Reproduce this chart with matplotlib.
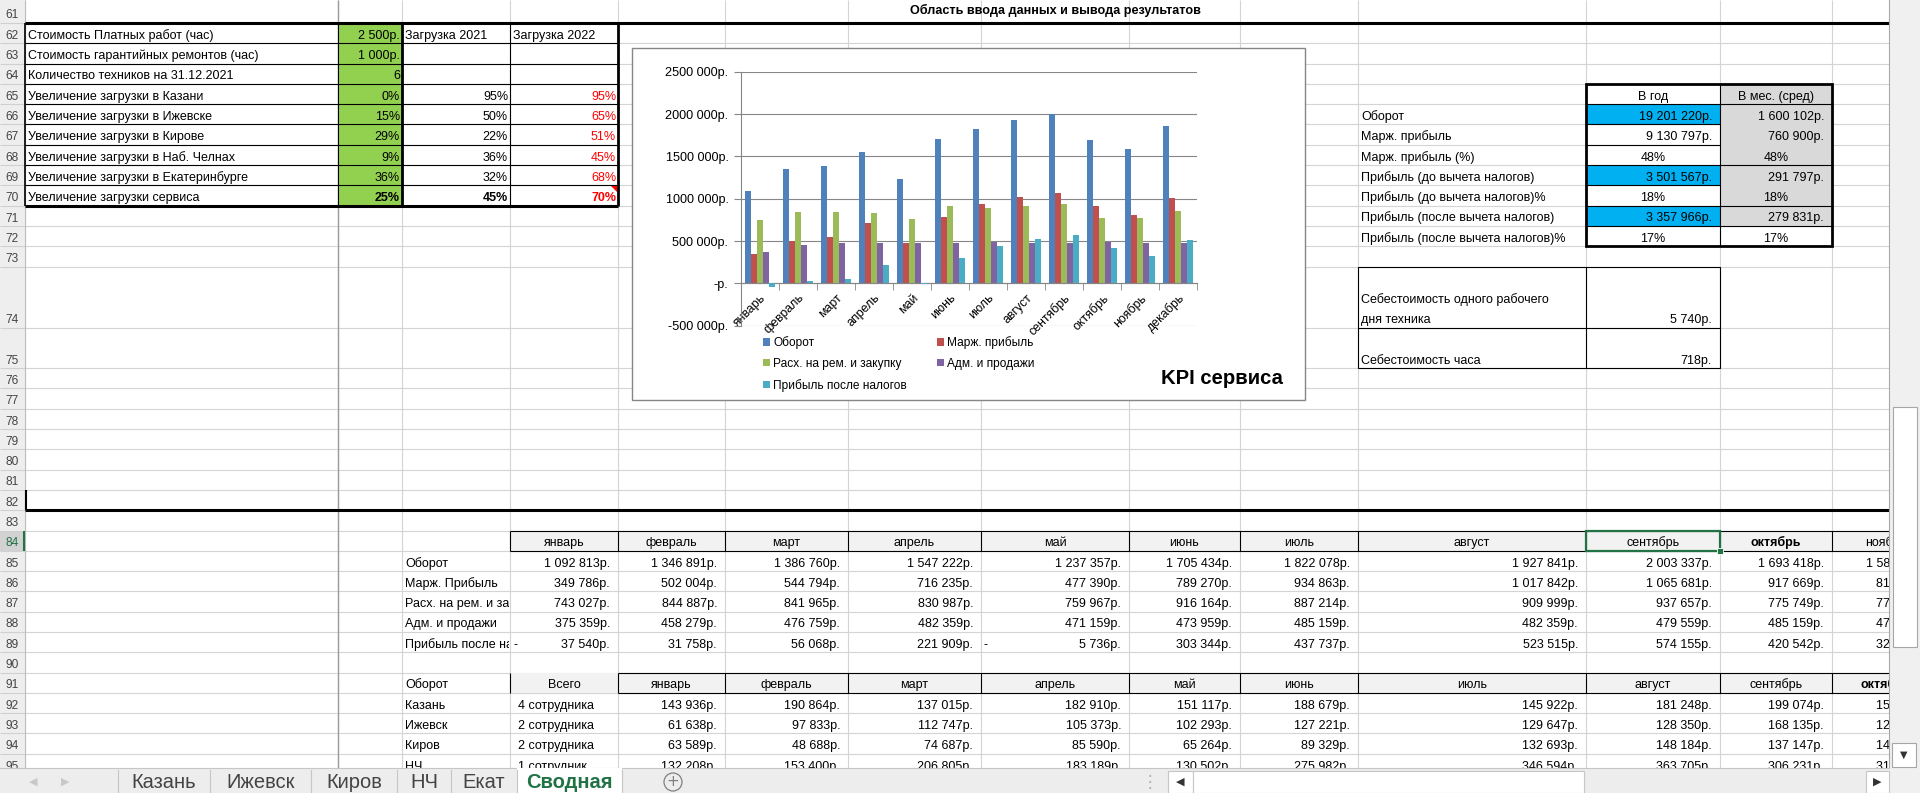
import matplotlib
matplotlib.use("Agg")
import matplotlib.pyplot as plt
import numpy as np
from matplotlib import font_manager
from matplotlib.patches import Rectangle, Circle, Polygon
from matplotlib.ticker import FuncFormatter, MultipleLocator

# --- данные листа "Сводная" ---
MONTHS = ["январь", "февраль", "март", "апрель", "май", "июнь", "июль",
          "август", "сентябрь", "октябрь", "ноябрь", "декабрь"]
TURNOVER = [1092813, 1346891, 1386760, 1547222, 1237357, 1705434, 1822078,
            1927841, 2003337, 1693418, 1584000, 1854000]
MARGIN = [349786, 502004, 544794, 716235, 477390, 789270, 934863,
          1017842, 1065681, 917669, 812000, 1003000]
REPAIR = [743027, 844887, 841965, 830987, 759967, 916164, 887214,
          909999, 937657, 775749, 772000, 853000]
ADMIN = [375359, 458279, 476759, 482359, 471159, 473959, 485159,
         482359, 479559, 485159, 474000, 478000]
PROFIT = [-37540, 31758, 56068, 221909, -5736, 303344, 437737,
          523515, 574155, 420542, 322000, 510000]

SERIES = ["Оборот", "Марж. прибыль", "Расх. на рем. и закупку",
          "Адм. и продажи", "Прибыль после налогов"]
COLORS = ["#4F81BD", "#C0504D", "#9BBB59", "#8064A2", "#4BACC6"]
T1_LABELS = ["Оборот", "Марж. Прибыль", "Расх. на рем. и закупку",
             "Адм. и продажи", "Прибыль после налогов"]

INPUT_LABELS = ["Стоимость Платных работ (час)", "Стоимость гарантийных ремонтов (час)",
                "Количество техников на 31.12.2021", "Увеличение загрузки в Казани",
                "Увеличение загрузки в Ижевске", "Увеличение загрузки в Кирове",
                "Увеличение загрузки в Наб. Челнах", "Увеличение загрузки в Екатеринбурге",
                "Увеличение загрузки сервиса"]
INPUT_VALUES = ["2 500р.", "1 000р.", "6", "0%", "15%", "29%", "9%", "36%", "25%"]
LOAD_2021 = [95, 50, 22, 36, 32, 45]
LOAD_2022 = [95, 65, 51, 45, 68, 70]

SUMMARY_LABELS = ["Оборот", "Марж. прибыль", "Марж. прибыль (%)",
                  "Прибыль (до вычета налогов)", "Прибыль (до вычета налогов)%",
                  "Прибыль (после вычета налогов)", "Прибыль (после вычета налогов)%"]
SUMMARY_YEAR = [19201220, 9130797, 0.48, 3501567, 0.18, 3357966, 0.17]
SUMMARY_MONTH = [1600102, 760900, 0.48, 291797, 0.18, 279831, 0.17]
COST_DAY = 5740
COST_HOUR = 718

CITIES = ["Казань", "Ижевск", "Киров", "НЧ"]
CITY_STAFF = ["4 сотрудника", "2 сотрудника", "2 сотрудника", "1 сотрудник"]
CITY_TURNOVER = [
    [143936, 190864, 137015, 182910, 151117, 188679, 145922, 181248, 199074, 155000],
    [61638, 97833, 112747, 105373, 102293, 127221, 129647, 128350, 168135, 125000],
    [63589, 48688, 74687, 85590, 65264, 89329, 132693, 148184, 137147, 145000],
    [132208, 153400, 206805, 183189, 130502, 275982, 346594, 363705, 306231, 315000],
]
SHEETS = ["Казань", "Ижевск", "Киров", "НЧ", "Екат", "Сводная"]

# --- оформление ---
W, H = 1920, 793
AVAILABLE = {f.name for f in font_manager.fontManager.ttflist}
if "Liberation Sans Narrow" in AVAILABLE:
    FONT, K = "Liberation Sans Narrow", 1.0
else:
    FONT, K = "Liberation Sans", 0.86
FS = 10.5 * K
GRID = "#D4D4D4"
XL_GREEN = "#217346"
HEAD = "#F2F2F2"

COLS = [25, 338, 402, 510, 618, 725, 848, 981, 1129, 1240, 1358, 1586, 1720, 1832, 1940]
ROW_H = 20.3
top, bot = {61: 0.0}, {61: 23.0}
y = 23.0
for r in range(62, 97):
    top[r] = y
    y += ROW_H * (3 if r == 74 else 2 if r == 75 else 1)
    bot[r] = y


def rub(v):
    return f"{abs(round(v)):,}".replace(",", " ") + "р."


fig = plt.figure(figsize=(W / 100, H / 100), dpi=100)
sh = fig.add_axes([0, 0, 1, 1])
sh.set_xlim(0, W)
sh.set_ylim(H, 0)
sh.axis("off")


def line(xs, ys, color="black", lw=0.8, z=2):
    sh.plot(xs, ys, color=color, lw=lw, zorder=z, solid_capstyle="butt")


def box(x0, y0, x1, y1, fc, ec="none", lw=0.8, z=1, ax=None):
    (ax or sh).add_patch(Rectangle((x0, y0), x1 - x0, y1 - y0, fc=fc, ec=ec, lw=lw, zorder=z))


def txt(x, r, s, ha="left", clip=None, dy=0, **kw):
    t = sh.text(x, bot[r] - 4.5 - dy, s, ha=ha, va="baseline", fontsize=FS,
                family=FONT, zorder=4, **kw)
    if clip is not None:
        t.set_clip_path(Rectangle((clip[0], top[r]), clip[1] - clip[0], bot[r] - top[r],
                                  transform=sh.transData))
        t.set_clip_on(True)
    return t


# сетка листа
for x in COLS[:-1]:
    line([x, x], [0, 768], GRID, z=0.5)
for r in range(61, 96):
    line([25, 1889], [bot[r]] * 2, GRID, z=0.5)

# заголовки строк
box(0, 0, 25, 768, "#EEEEEE", z=0.6)
box(0, top[84], 25, bot[84], "#D2D2D2", z=0.7)
for r in range(61, 96):
    line([0, 25], [bot[r]] * 2, "#D0D0D0", z=0.8)
    sh.text(12.5, bot[r] - 4.5, str(r), ha="center", va="baseline", fontsize=FS * 0.95,
            family=FONT, color=XL_GREEN if r == 84 else "#444444", zorder=3)
line([24, 24], [top[84], bot[84]], XL_GREEN, lw=1.5, z=3)
line([25, 25], [0, 768], "#BDBDBD", z=1)
line([338, 338], [0, 768], "#9B9B9B", lw=1.0, z=1)

sh.text(1055, 10, "Область ввода данных и вывода результатов", ha="center", va="center",
        fontsize=10.6 * K, family=FONT, weight="bold", zorder=4)
line([25, 1889], [23, 23], lw=2.2, z=3)
line([25, 1889], [bot[82]] * 2, lw=2.2, z=3)
line([26, 26], [top[82], bot[82]], lw=1.5, z=3)

# таблица ввода
box(338, 23, 402, bot[70], "#92D050")
for r in range(62, 70):
    line([25, 618], [bot[r]] * 2)
line([25, 618], [bot[70]] * 2, lw=2.2, z=3)
line([25, 25], [23, bot[70]], lw=1.2)
line([338, 338], [23, bot[70]])
line([402, 402], [23, bot[70]], lw=2)
line([510, 510], [23, bot[70]])
line([618, 618], [23, bot[70]], lw=2)
for i, label in enumerate(INPUT_LABELS):
    r = 62 + i
    txt(28, r, label)
    txt(400, r, INPUT_VALUES[i], ha="right", weight="bold" if r == 70 else "normal")
txt(405, 62, "Загрузка 2021")
txt(513, 62, "Загрузка 2022")
for i in range(len(LOAD_2021)):
    r = 65 + i
    w8 = "bold" if r == 70 else "normal"
    txt(508, r, f"{LOAD_2021[i]}%", ha="right", weight=w8)
    txt(616, r, f"{LOAD_2022[i]}%", ha="right", weight=w8, color="#FF0000")
sh.add_patch(Polygon([[611, top[70] + 1], [617, top[70] + 1], [617, top[70] + 7]],
                     fc="#FF0000", ec="none", zorder=4))

# итоговая таблица справа
xa, xb, xc = COLS[11], COLS[12], COLS[13]
box(xa, top[65], xb, bot[65], "white")
box(xb, top[65], xc, bot[71], "#D9D9D9")
for r in (66, 69, 71):
    box(xa, top[r], xb, bot[r], "#00B0F0")
for r in range(65, 72):
    line([xa, xb], [bot[r]] * 2)
for r in (65, 68, 70, 71):
    line([xb, xc], [bot[r]] * 2)
line([xb, xb], [top[65], bot[72]])
sh.add_patch(Rectangle((xa, top[65]), xc - xa, bot[72] - top[65], fill=False,
                       ec="black", lw=2, zorder=3))
txt((xa + xb) / 2, 65, "В год", ha="center")
txt((xb + xc) / 2, 65, "В мес. (сред)", ha="center")
for i, label in enumerate(SUMMARY_LABELS):
    r = 66 + i
    txt(COLS[10] + 3, r, label)
    for val, x0, x1 in ((SUMMARY_YEAR[i], xa, xb), (SUMMARY_MONTH[i], xb, xc)):
        if val < 1:
            txt((x0 + x1) / 2, r, f"{round(val * 100)}%", ha="center")
        else:
            txt(x1 - 8, r, rub(val), ha="right")

sh.add_patch(Rectangle((COLS[10], top[74]), xb - COLS[10], bot[75] - top[74], fill=False,
                       ec="black", lw=0.8, zorder=3))
line([COLS[10], xb], [bot[74]] * 2)
line([xa, xa], [top[74], bot[75]])
txt(COLS[10] + 3, 74, "Себестоимость одного рабочего", dy=ROW_H)
txt(COLS[10] + 3, 74, "дня техника")
txt(xb - 8, 74, rub(COST_DAY), ha="right")
txt(COLS[10] + 3, 75, "Себестоимость часа")
txt(xb - 8, 75, rub(COST_HOUR), ha="right")

# таблица по месяцам
for k in range(11):
    x0, x1 = COLS[3 + k], COLS[4 + k]
    box(x0, top[84], x1, bot[84], HEAD)
    line([x0, x0], [top[84], bot[84]])
    txt((x0 + x1) / 2, 84, MONTHS[k], ha="center", weight="bold" if k == 9 else "normal")
line([510, 1940], [top[84]] * 2)
line([510, 1940], [bot[84]] * 2)
for j, vals in enumerate([TURNOVER, MARGIN, REPAIR, ADMIN, PROFIT]):
    r = 85 + j
    txt(405, r, T1_LABELS[j], clip=(402, 509))
    for k in range(11):
        x0, x1 = COLS[3 + k], COLS[4 + k]
        txt(x1 - 8, r, rub(vals[k]), ha="right")
        if vals[k] < 0:
            txt(x0 + 3, r, "-")
sh.add_patch(Rectangle((COLS[11], top[84]), COLS[12] - COLS[11], ROW_H, fill=False,
                       ec=XL_GREEN, lw=1.6, zorder=5))
box(COLS[12] - 3, bot[84] - 3, COLS[12] + 3, bot[84] + 3, XL_GREEN, ec="white", lw=0.6, z=6)

# оборот по городам
txt(405, 91, "Оборот")
box(510, top[91], 618, bot[91], HEAD)
line([510, 510], [top[91], bot[91]])
txt(564, 91, "Всего", ha="center")
for k in range(10):
    x0, x1 = COLS[4 + k], COLS[5 + k]
    box(x0, top[91], x1, bot[91], HEAD)
    line([x0, x0], [top[91], bot[91]])
    txt((x0 + x1) / 2, 91, MONTHS[k], ha="center", weight="bold" if k == 9 else "normal")
line([618, 1940], [top[91]] * 2)
line([618, 1940], [bot[91]] * 2)
for j, city in enumerate(CITIES):
    r = 92 + j
    txt(405, r, city)
    txt(518, r, CITY_STAFF[j])
    for k, v in enumerate(CITY_TURNOVER[j]):
        txt(COLS[5 + k] - 8, r, rub(v), ha="right")

# --- диаграмма KPI ---
box(632, 48, 1305, 400, "white", ec="#868686", lw=1, z=7)
ax = fig.add_axes([741 / W, 1 - 325.7 / H, (1197 - 741) / W, (325.7 - 71.7) / H], zorder=6)
ax.patch.set_alpha(0)
x = np.arange(len(MONTHS))
bw = 1 / 6.5
for k, vals in enumerate([TURNOVER, MARGIN, REPAIR, ADMIN, PROFIT]):
    ax.bar(x + (k - 2) * bw, vals, bw, color=COLORS[k], label=SERIES[k], zorder=3)
ax.set_xlim(-0.5, len(MONTHS) - 0.5)
ax.set_ylim(-500000, 2500000)
ax.yaxis.set_major_locator(MultipleLocator(500000))
ax.yaxis.set_major_formatter(FuncFormatter(
    lambda v, p: "-р." if v == 0 else f"{int(v / 1000)} 000р."))
ax.grid(axis="y", color="#868686", lw=0.8)
ax.set_axisbelow(True)
for s in ("top", "right"):
    ax.spines[s].set_visible(False)
ax.spines["left"].set_color("#868686")
ax.spines["bottom"].set_color("#868686")
ax.spines["bottom"].set_position(("data", 0))
ax.set_xticks(x)
ax.set_xticklabels(MONTHS, rotation=45, ha="right", rotation_mode="anchor",
                   fontsize=10.4 * K, family=FONT)
ax.set_xticks(np.arange(-0.5, len(MONTHS)), minor=True)
ax.tick_params(axis="x", which="major", length=0, pad=6)
ax.tick_params(axis="x", which="minor", length=5, color="#868686", direction="out")
ax.tick_params(axis="y", length=5, color="#868686", direction="out", pad=4)
for t in ax.get_yticklabels():
    t.set_family(FONT)
    t.set_fontsize(10.6 * K)

handles, labels = ax.get_legend_handles_labels()
order = [0, 2, 4, 1, 3]
ax.legend([handles[i] for i in order], [labels[i] for i in order], ncol=2,
          loc="upper left", bbox_to_anchor=(763 / W, 1 - 336 / H), bbox_transform=fig.transFigure,
          frameon=False, prop={"family": FONT, "size": 10 * K}, handlelength=0.6,
          handleheight=0.6, handletextpad=0.25, columnspacing=2.5, labelspacing=0.75,
          borderpad=0, borderaxespad=0)
fig.text(1222 / W, 1 - 378 / H, "KPI сервиса", ha="center", va="center",
         fontsize=17 * K, family=FONT, weight="bold", zorder=8)

# --- полосы прокрутки и ярлыки листов ---
ov = fig.add_axes([0, 0, 1, 1], zorder=10)
ov.set_xlim(0, W)
ov.set_ylim(H, 0)
ov.axis("off")
ov.patch.set_alpha(0)
box(1889, 0, W, H, "#F0F0F0", z=1, ax=ov)
ov.plot([1889, 1889], [0, 768], color="#A8A8A8", lw=0.8, zorder=2)
box(1893, 407, 1917, 647, "white", ec="#A6A6A6", z=2, ax=ov)
box(1892, 743, 1916, 767, "white", ec="#A6A6A6", z=2, ax=ov)
ov.text(1904, 755, "▼", ha="center", va="center", fontsize=7, color="#333333",
        family="DejaVu Sans", zorder=3)

box(0, 768, 1889, H, "#EDEDED", z=1, ax=ov)
ov.plot([0, 1889], [768, 768], color="#C6C6C6", lw=0.8, zorder=2)
ov.text(33, 782, "◀", ha="center", va="center", fontsize=8, color="#C8C8C8",
        family="DejaVu Sans", zorder=3)
ov.text(65, 782, "▶", ha="center", va="center", fontsize=8, color="#C8C8C8",
        family="DejaVu Sans", zorder=3)
tab_edges = [118, 210, 311, 397, 451, 517, 622]
for i, name in enumerate(SHEETS):
    x0, x1 = tab_edges[i], tab_edges[i + 1]
    active = name == "Сводная"
    if active:
        box(x0, 768, x1, H, "white", z=2, ax=ov)
    ov.text((x0 + x1) / 2, 782, name, ha="center", va="center", fontsize=14.5,
            family="Liberation Sans", weight="bold" if active else "normal",
            color=XL_GREEN if active else "#444444", zorder=3)
for xe in tab_edges:
    ov.plot([xe, xe], [770, H], color="#C6C6C6", lw=0.8, zorder=3)
ov.add_patch(Circle((673, 782), 9, fill=False, ec="#808080", lw=0.9, zorder=3))
ov.text(673, 782, "+", ha="center", va="center", fontsize=11, color="#808080",
        family="DejaVu Sans", zorder=3)
ov.text(1150, 782, "⋮", ha="center", va="center", fontsize=12, color="#B0B0B0",
        family="DejaVu Sans", zorder=3)
box(1168, 771, 1193, H, "white", ec="#C6C6C6", z=2, ax=ov)
box(1193, 771, 1584, H, "white", ec="#C6C6C6", z=2, ax=ov)
box(1866, 771, 1889, H, "white", ec="#C6C6C6", z=2, ax=ov)
ov.text(1180, 782, "◀", ha="center", va="center", fontsize=8, color="#333333",
        family="DejaVu Sans", zorder=3)
ov.text(1877, 782, "▶", ha="center", va="center", fontsize=8, color="#333333",
        family="DejaVu Sans", zorder=3)

fig.savefig("out.png", dpi=100)
